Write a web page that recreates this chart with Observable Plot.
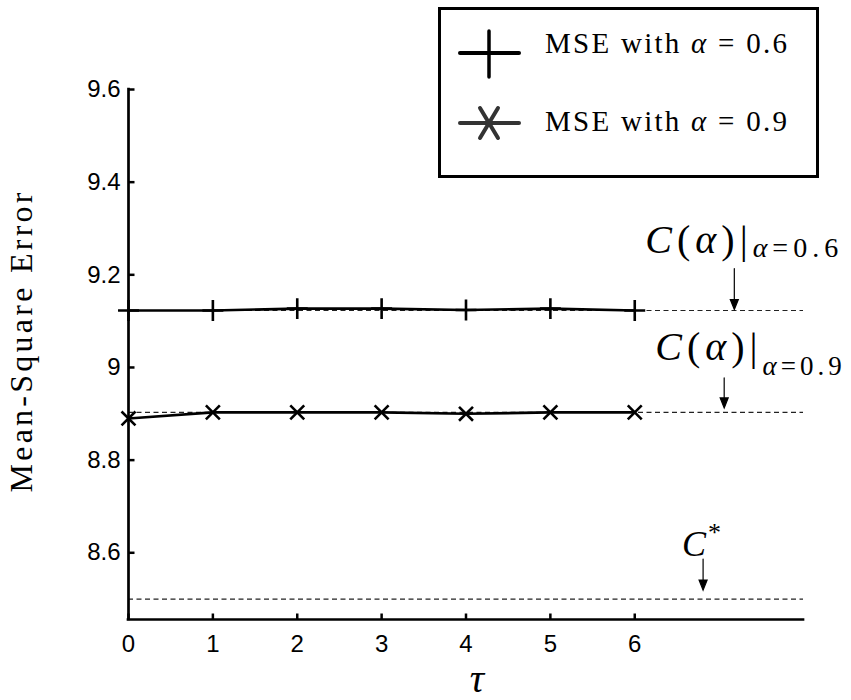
<!DOCTYPE html>
<html>
<head>
<meta charset="utf-8">
<script src="https://cdn.jsdelivr.net/npm/d3@7"></script>
<script src="https://cdn.jsdelivr.net/npm/@observablehq/plot@0.6"></script>
<style>
  body { margin: 0; background: #fff; }
  #chart svg { display: block; }
</style>
</head>
<body>
<div id="chart"></div>
<script>
// Lag τ on the horizontal axis, mean-square error for two forgetting factors
const lags = [0, 1, 2, 3, 4, 5, 6];
const mseAlpha06 = [9.123, 9.123, 9.127, 9.127, 9.124, 9.127, 9.123];
const mseAlpha09 = [8.890, 8.903, 8.903, 8.903, 8.900, 8.903, 8.903];
const seriesLabels = ["MSE with α = 0.6", "MSE with α = 0.9"];

// Reference levels drawn as dashed lines: C(α) at α = 0.6, α = 0.9, and C*
const refLevels = [9.123, 8.903, 8.5];
const refLabels = ["C(α)|_{α=0.6}", "C(α)|_{α=0.9}", "C^{*}"];

const xTicks = [0, 1, 2, 3, 4, 5, 6];
const yTicks = [8.6, 8.8, 9, 9.2, 9.4, 9.6];
const yTickLabels = ["8.6", "8.8", "9", "9.2", "9.4", "9.6"];
const xDomain = [0, 8];
const yDomain = [8.456, 9.6];
const xLabel = "τ";
const yLabel = "Mean-Square Error";

const rows06 = lags.map((t, i) => ({t, mse: mseAlpha06[i]}));
const rows09 = lags.map((t, i) => ({t, mse: mseAlpha09[i]}));
const refs = refLevels.map((level, i) => ({level, label: refLabels[i]}));

const serif = "'Liberation Serif', 'Times New Roman', serif";

// Short inward tick: a stroke from the anchor point along the vector direction
const tickShape = {draw(ctx, l) { ctx.moveTo(0, 0); ctx.lineTo(0, -l); }};
// Thin arrow with a filled triangular head
const arrowShape = {
  draw(ctx, l) {
    const h = 10, w = 4;
    ctx.moveTo(0, 0); ctx.lineTo(0, -(l - h));
    ctx.moveTo(0, -l); ctx.lineTo(-w, -(l - h)); ctx.lineTo(w, -(l - h)); ctx.closePath();
  }
};

const chart = Plot.plot({
  width: 851,
  height: 700,
  marginLeft: 128,
  marginRight: 48,
  marginTop: 89,
  marginBottom: 81,
  style: {fontFamily: "'Liberation Sans', Arial, sans-serif", fontSize: "24px", color: "black", background: "white", overflow: "visible"},
  x: {domain: xDomain},
  y: {domain: yDomain},
  marks: [
    // dashed reference levels
    Plot.ruleY(refs, {y: "level", stroke: "#222", strokeWidth: 1.1, strokeDasharray: "5,3.5"}),
    // series
    Plot.line(rows06, {x: "t", y: "mse", stroke: "black", strokeWidth: 2.6}),
    Plot.dot(rows06, {x: "t", y: "mse", symbol: "plus", r: 6.8, stroke: "black", strokeWidth: 2.6, fill: "none"}),
    Plot.line(rows09, {x: "t", y: "mse", stroke: "black", strokeWidth: 2.6}),
    Plot.dot(rows09, {x: "t", y: "mse", symbol: "times", r: 6.4, stroke: "black", strokeWidth: 2.6, fill: "none"}),
    // axis lines
    Plot.ruleX([xDomain[0]], {stroke: "black", strokeWidth: 2.7, strokeLinecap: "square"}),
    Plot.ruleY([yDomain[0]], {stroke: "black", strokeWidth: 2.7, strokeLinecap: "square"}),
    // inward ticks
    Plot.vector(xTicks, {x: d => d, y: () => yDomain[0], length: 6, shape: tickShape, anchor: "start", stroke: "black", strokeWidth: 2.5, strokeLinecap: "butt"}),
    Plot.vector(yTicks, {x: () => xDomain[0], y: d => d, length: 6, rotate: 90, shape: tickShape, anchor: "start", stroke: "black", strokeWidth: 2.5, strokeLinecap: "butt"}),
    // tick labels
    Plot.axisX({ticks: xTicks, tickSize: 0, tickPadding: 15, fontSize: 24, label: null}),
    Plot.axisY({ticks: yTicks, tickSize: 0, tickPadding: 8, fontSize: 24, label: null,
      tickFormat: d => yTickLabels[yTicks.indexOf(d)]}),
    // axis titles
    Plot.text([xLabel], {frameAnchor: "bottom", text: d => d, dx: 11, dy: 72, lineAnchor: "bottom",
      fontSize: 40, fontStyle: "italic", fontFamily: serif}),
    Plot.text([yLabel], {frameAnchor: "left", text: d => d, rotate: -90, dx: -107, dy: 138,
      textAnchor: "start", lineAnchor: "middle", fontSize: 32, fontFamily: serif, className: "ylab"}),
    // annotation arrows pointing at the reference levels
    Plot.vector([refs[0]], {x: () => 7.18, y: "level", dy: -1, length: 41, rotate: 180, anchor: "end",
      shape: arrowShape, stroke: "black", fill: "black", strokeWidth: 1.2, strokeLinejoin: "miter"}),
    Plot.vector([refs[1]], {x: () => 7.06, y: "level", dy: -4.5, length: 30, rotate: 180, anchor: "end",
      shape: arrowShape, stroke: "black", fill: "black", strokeWidth: 1.2, strokeLinejoin: "miter"}),
    Plot.vector([refs[2]], {x: () => 6.81, y: "level", dy: -9, length: 31, rotate: 180, anchor: "end",
      shape: arrowShape, stroke: "black", fill: "black", strokeWidth: 1.2, strokeLinejoin: "miter"}),
    // annotation labels
    Plot.text([refs[0]], {x: () => 7.18, y: "level", text: "label", dx: -89, dy: -57, textAnchor: "start",
      lineAnchor: "bottom", fontSize: 40, fontFamily: serif, className: "annot-a"}),
    Plot.text([refs[1]], {x: () => 7.06, y: "level", text: "label", dx: -69, dy: -52, textAnchor: "start",
      lineAnchor: "bottom", fontSize: 40, fontFamily: serif, className: "annot-b"}),
    Plot.text([refs[2]], {x: () => 6.81, y: "level", text: "label", dx: -21, dy: -43, textAnchor: "start",
      lineAnchor: "bottom", fontSize: 36, fontFamily: serif, className: "annot-c"})
  ]
});

// Small math typesetter: _{…} subscript, ^{…} superscript, italic variables
const italicChars = new Set(["C", "α", "τ"]);
function typeset(node, src, {scriptSize, subShift = 0, supShift = 0, spacing = 0, scriptSpacing = 0}) {
  const ns = "http://www.w3.org/2000/svg";
  while (node.firstChild) node.removeChild(node.firstChild);
  const re = /([_^])\{([^}]*)\}|([^_^]+)/g;
  let m, base = 0;
  while ((m = re.exec(src))) {
    const kind = m[1] || "";
    const body = kind ? m[2] : m[3];
    const target = kind === "_" ? subShift : kind === "^" ? supShift : 0;
    const runs = [];
    for (const ch of body) {
      const it = italicChars.has(ch);
      if (runs.length && runs[runs.length - 1].it === it) runs[runs.length - 1].s += ch;
      else runs.push({s: ch, it});
    }
    runs.forEach((r, j) => {
      const t = document.createElementNS(ns, "tspan");
      t.textContent = r.s;
      if (r.it) t.setAttribute("font-style", "italic");
      if (kind) t.setAttribute("font-size", scriptSize);
      if (j === 0 && target !== base) { t.setAttribute("dy", target - base); base = target; }
      const sp = kind ? scriptSpacing : spacing;
      if (sp) t.setAttribute("letter-spacing", sp);
      node.appendChild(t);
    });
  }
}

const svg = d3.select(chart);
svg.selectAll(".annot-a text").each(function() {
  typeset(this, this.textContent, {scriptSize: 28, subShift: 4, spacing: 5, scriptSpacing: 5});
});
svg.selectAll(".annot-b text").each(function() {
  typeset(this, this.textContent, {scriptSize: 27, subShift: 15, spacing: 5, scriptSpacing: 4});
});
svg.selectAll(".annot-c text").each(function() {
  typeset(this, this.textContent, {scriptSize: 26, supShift: -15, spacing: 2});
});
svg.selectAll(".ylab text").attr("textLength", 300).attr("lengthAdjust", "spacing");

// Legend box
const lg = svg.append("g").attr("class", "legend").attr("text-anchor", "start");
lg.append("rect").attr("x", 439.5).attr("y", 8.5).attr("width", 378).attr("height", 168)
  .attr("fill", "white").attr("stroke", "black").attr("stroke-width", 3);
// entry 1: plus marker
lg.append("line").attr("x1", 460).attr("x2", 519).attr("y1", 53).attr("y2", 53)
  .attr("stroke", "black").attr("stroke-width", 4).attr("stroke-linecap", "round");
lg.append("line").attr("x1", 489).attr("x2", 489).attr("y1", 31).attr("y2", 77)
  .attr("stroke", "black").attr("stroke-width", 3.5).attr("stroke-linecap", "round");
// entry 2: times marker
lg.append("line").attr("x1", 460).attr("x2", 519).attr("y1", 123).attr("y2", 123)
  .attr("stroke", "#333").attr("stroke-width", 4).attr("stroke-linecap", "round");
lg.append("path").attr("d", "M480,108L498,138M498,108L480,138")
  .attr("stroke", "#333").attr("stroke-width", 4).attr("stroke-linecap", "round").attr("fill", "none");
seriesLabels.forEach((label, i) => {
  const t = lg.append("text").attr("x", 545).attr("y", i === 0 ? 53 : 131)
    .attr("text-anchor", "start")
    .attr("font-family", serif).attr("font-size", 29).attr("fill", "black");
  typeset(t.node(), label, {});
  t.attr("textLength", 242).attr("lengthAdjust", "spacing");
});

document.getElementById("chart").appendChild(chart);
</script>
</body>
</html>
